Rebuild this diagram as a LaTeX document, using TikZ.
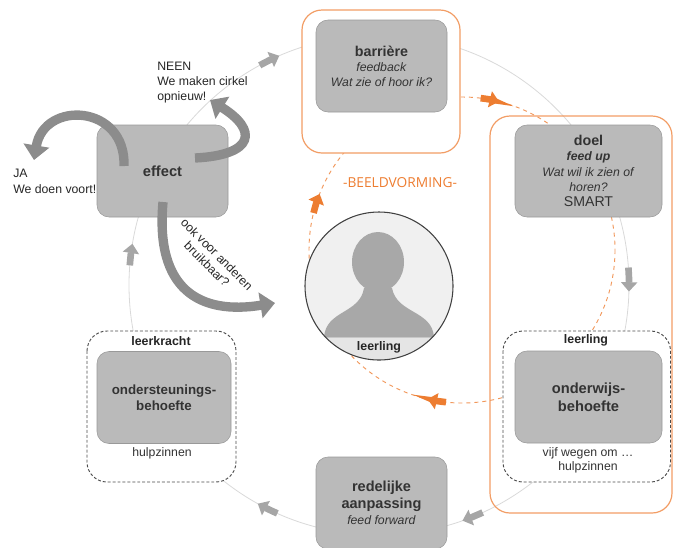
\documentclass[tikz,border=0pt]{standalone}
\usepackage{fontspec}
\setmainfont{Liberation Sans}
\newfontfamily\bvfont{Open Sans}
\usetikzlibrary{calc,arrows.meta}
\definecolor{accent}{HTML}{ED7D31}
\def\flowarc[#1](#2)(#3:#4:#5){\draw[#1] ($(#2)+({#5*cos(#3)},{#5*sin(#3)})$) arc (#3:#4:#5);}
\tikzset{
	stagebox/.style={draw=black!40, fill=black!27, rounded corners=9pt, align=center, text=black!80, minimum width=98.25pt, minimum height=69pt, font=\fontsize{9.2}{11.25}\selectfont},
	orangeframe/.style={draw=accent!75, line width=0.9pt, rounded corners=15pt},
	dashframe/.style={draw=black!70, fill=white, line width=0.7pt, dash pattern=on 2.2pt off 1.5pt, rounded corners=15pt},
	cyclering/.style={draw=black!15, line width=0.6pt},
	loopring/.style={draw=accent!80, line width=0.7pt, dashed},
	ringarrow/.style={draw=black!35, line width=5pt, -{Triangle[width=12pt,length=7pt]}},
	orangearrow/.style={ringarrow, draw=accent},
	curlarrow/.style={draw=black!45, line width=7pt, -{Triangle[width=19pt,length=11pt]}},
	boxtag/.style={text=black!85, font=\bfseries\fontsize{9.3}{11}\selectfont},
	boxnote/.style={text=black!80, align=center, font=\fontsize{9.2}{10.5}\selectfont}
}
\begin{document}
\begin{tikzpicture}[x=0.75pt, y=-0.75pt]
			%%%%% START %%%%%
			\useasboundingbox (0,0) rectangle (673,547);
			\coordinate (ring) at (379,285);
			\coordinate (loop) at (462,250);
			\coordinate (pupil) at (379,286);
			
			\draw[cyclering] (ring) circle (250);
			\draw[loopring] (loop) circle (153);
			
			\draw[orangeframe, fill=white] (302,10) rectangle (460,153);
			\draw[dashframe] (87,331) rectangle (236,482);
			\draw[dashframe] (503,331) rectangle (670.5,482);
			\draw[orangeframe] (490,116) rectangle (672,513);
			
			\node[stagebox] (effect) at (162.5,171) {\bfseries\fontsize{11}{13}\selectfont effect};
			\node[stagebox] (barrier) at (381.5,66) {{\bfseries\fontsize{10.7}{11.25}\selectfont barrière}\\\textit{feedback}\\\textit{Wat zie of hoor ik?}};
			\node[stagebox, minimum width=110.25pt, font=\fontsize{9.2}{11.5}\selectfont] (goal) at (588.5,171) {{\bfseries\fontsize{10.7}{11.5}\selectfont doel}\\{\bfseries\itshape feed up}\\\textit{Wat wil ik zien of}\\\textit{horen?}\\{\fontsize{10.6}{11.5}\selectfont SMART}};
			\node[stagebox, minimum width=110.25pt, font=\bfseries\fontsize{11}{13.5}\selectfont] (needs) at (588.5,397) {onderwijs-\\behoefte};
			\node[stagebox, minimum width=100.5pt, font=\bfseries\fontsize{10}{12}\selectfont] (support) at (164,397.5) {ondersteunings-\\behoefte};
			\node[stagebox, font=\fontsize{9.2}{12.4}\selectfont] (adjust) at (381.5,503) {{\bfseries\fontsize{10.9}{12.4}\selectfont redelijke}\\{\bfseries\fontsize{10.9}{12.4}\selectfont aanpassing}\\\textit{feed forward}};
			
			\node[boxtag] (teacher) at (161,341) {leerkracht};
			\node[boxnote] (teacherhelp) at (162,453) {hulpzinnen};
			\node[boxtag] (pupiltag) at (586,340) {leerling};
			\node[boxnote] (pupilhelp) at (588,460) {vijf wegen om …\\hulpzinnen};
			
			\begin{scope}
				\clip (pupil) circle (74);
				\fill[black!6] (pupil) circle (74);
				\fill[black!10] (300,337) rectangle (460,370);
				\draw[black!20, line width=0.5pt] (300,337) -- (460,337);
				\fill[black!34] (378,262) ellipse (26 and 30);
				\fill[black!34] (324,337) .. controls (326,310) and (360,314) .. (364,288) -- (392,288) .. controls (397,314) and (432,310) .. (434,337) -- cycle;
			\end{scope}
			\draw[black!75, line width=0.8pt] (pupil) circle (74);
			\node[boxtag] (pupilname) at (379,347) {leerling};
			
			\flowarc[ringarrow](ring)(241.5:246.5:250)
			\flowarc[ringarrow](ring)(-4:1.5:250)
			\flowarc[ringarrow](ring)(65.5:70.5:250)
			\flowarc[ringarrow](ring)(114:119:250)
			\flowarc[ringarrow](ring)(184.5:189.5:250)
			
			\flowarc[orangearrow](loop)(194:201.5:153)
			\flowarc[orangearrow](loop)(277:284:153)
			\flowarc[orangearrow](loop)(96:103:153)
			
			\draw[curlarrow] (124,166) .. controls (126,104) and (44,100) .. (34,160);
			\draw[curlarrow] (195,158) .. controls (255,155) and (258,130) .. (210,100);
			\draw[curlarrow] (163,202) .. controls (155,290) and (200,315) .. (275,303);
			
			\node[anchor=west, align=left, inner sep=0pt, text=black!85, font=\fontsize{9.2}{11.25}\selectfont] (redo) at (157,83) {NEEN\\We maken cirkel\\opnieuw!};
			\node[anchor=west, align=left, inner sep=0pt, text=black!85, font=\fontsize{9.2}{12}\selectfont] (goon) at (13,181) {JA\\We doen voort!};
			\node[rotate=-45, align=center, inner sep=0pt, text=black!85, font=\fontsize{9.2}{10.5}\selectfont] (others) at (212,259) {ook voor anderen\\bruikbaar?};
			\node[text=accent, font=\bvfont\fontsize{10.3}{12}\selectfont] (imaging) at (400,183) {-BEELDVORMING-};
			
			%%%%% END %%%%%
\end{tikzpicture}
\end{document}
